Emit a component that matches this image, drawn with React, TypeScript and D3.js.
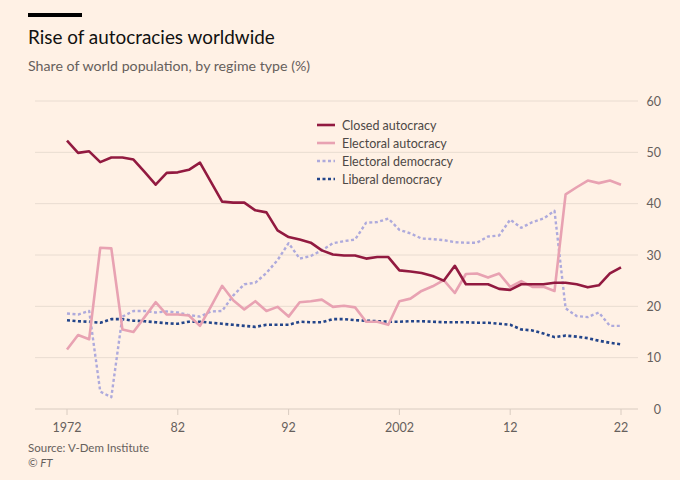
import React from "react";
import * as d3 from "d3";

const years: number[] = d3.range(1972, 2023);

const closedAutocracy: number[] = [
  52.3, 49.9, 50.2, 48.1, 49.0, 49.0, 48.6, 46.2, 43.7, 46.0,
  46.1, 46.6, 48.0, 44.2, 40.4, 40.2, 40.2, 38.7, 38.3, 34.8,
  33.5, 33.0, 32.4, 30.9, 30.1, 29.9, 29.9, 29.3, 29.6, 29.6,
  27.0, 26.8, 26.5, 25.9, 25.0, 27.9, 24.3, 24.3, 24.3, 23.4,
  23.2, 24.3, 24.3, 24.3, 24.6, 24.6, 24.3, 23.7, 24.1, 26.4,
  27.6,
];

const electoralAutocracy: number[] = [
  11.6, 14.4, 13.6, 31.4, 31.3, 15.5, 15.0, 17.9, 20.8, 18.4,
  18.4, 18.2, 16.2, 20.0, 24.0, 21.2, 19.4, 21.0, 19.1, 19.9,
  18.0, 20.8, 21.0, 21.3, 19.9, 20.1, 19.8, 17.0, 17.0, 16.4,
  21.0, 21.5, 23.0, 23.9, 25.1, 22.6, 26.3, 26.4, 25.6, 26.4,
  23.8, 24.9, 23.8, 23.8, 23.0, 41.8, 43.2, 44.5, 44.0, 44.5,
  43.7,
];

const electoralDemocracy: number[] = [
  18.6, 18.4, 19.1, 3.4, 2.3, 18.0, 19.1, 19.1, 18.8, 19.0,
  18.8, 18.3, 18.0, 19.0, 19.1, 22.1, 24.3, 24.6, 26.5, 29.0,
  32.3, 29.3, 29.8, 30.9, 32.3, 32.7, 33.0, 36.3, 36.4, 37.1,
  34.9, 34.2, 33.2, 33.1, 32.9, 32.5, 32.4, 32.4, 33.6, 33.8,
  36.9, 35.3, 36.4, 37.1, 38.6, 19.6, 18.1, 17.9, 18.8, 16.2,
  16.2,
];

const liberalDemocracy: number[] = [
  17.3, 17.1, 17.0, 16.8, 17.5, 17.5, 17.2, 17.1, 16.9, 16.7,
  16.6, 17.0, 17.0, 16.8, 16.6, 16.4, 16.2, 16.0, 16.4, 16.4,
  16.4, 17.0, 16.9, 16.9, 17.5, 17.5, 17.3, 17.2, 17.1, 17.0,
  17.0, 17.1, 17.1, 17.0, 16.9, 16.9, 16.9, 16.8, 16.8, 16.6,
  16.4, 15.5, 15.3, 14.7, 14.0, 14.3, 14.1, 13.8, 13.3, 12.9,
  12.6,
];

const seriesNames: string[] = [
  "Closed autocracy",
  "Electoral autocracy",
  "Electoral democracy",
  "Liberal democracy",
];

const yTicks: number[] = [0, 10, 20, 30, 40, 50, 60];
const xTicks: number[] = [1972, 1982, 1992, 2002, 2012, 2022];
const xTickLabels: string[] = ["1972", "82", "92", "2002", "12", "22"];

const title = "Rise of autocracies worldwide";
const subtitle = "Share of world population, by regime type (%)";
const source = "Source: V-Dem Institute";
const credit = "© FT";

const BG = "#FFF1E5";
const FONT = "Lato, 'Noto Sans', sans-serif";

const styles = [
  { color: "#921a40", width: 2.6, dash: "" },
  { color: "#e8a2b2", width: 2.6, dash: "" },
  { color: "#aeaadc", width: 2.4, dash: "3,2.5" },
  { color: "#23458a", width: 2.6, dash: "3,2.5" },
];

export default function App() {
  const W = 680;
  const H = 480;
  const x = d3.scaleLinear().domain([1972, 2022]).range([67, 621]);
  const y = d3.scaleLinear().domain([0, 60]).range([409, 101]);

  const allSeries = [closedAutocracy, electoralAutocracy, electoralDemocracy, liberalDemocracy];
  const line = d3
    .line<number>()
    .x((_, i) => x(years[i]))
    .y((d) => y(d))
    .curve(d3.curveLinear);

  const order = [3, 2, 1, 0];

  return (
    <svg
      width={W}
      height={H}
      style={{ position: "absolute", left: 0, top: 0, background: BG, fontFamily: FONT }}
    >
      <rect x={0} y={0} width={W} height={H} fill={BG} />
      <rect x={28} y={13} width={54} height={4} fill="#000" />
      <text x={28} y={44} fontSize={18.9} fill="#111" fontFamily={FONT}>
        {title}
      </text>
      <text x={28} y={71} fontSize={14.2} fill="#66605c" fontFamily={FONT}>
        {subtitle}
      </text>

      {yTicks.map((t) => (
        <g key={t}>
          <line
            x1={35}
            x2={638}
            y1={y(t)}
            y2={y(t)}
            stroke={t === 0 ? "#d9ccc1" : "#e9dcd1"}
            strokeWidth={1}
          />
          <text
            x={661}
            y={y(t) + 4.5}
            textAnchor="end"
            fontSize={12.5}
            fill="#66605c"
            fontFamily={FONT}
          >
            {t}
          </text>
        </g>
      ))}

      {xTicks.map((t, i) => (
        <g key={t}>
          <line x1={x(t)} x2={x(t)} y1={409} y2={415} stroke="#d9ccc1" strokeWidth={1} />
          <text
            x={x(t)}
            y={432}
            textAnchor="middle"
            fontSize={12.5}
            fill="#66605c"
            fontFamily={FONT}
          >
            {xTickLabels[i]}
          </text>
        </g>
      ))}

      {order.map((k) => (
        <path
          key={k}
          d={line(allSeries[k]) || ""}
          fill="none"
          stroke={styles[k].color}
          strokeWidth={styles[k].width}
          strokeDasharray={styles[k].dash || undefined}
          strokeLinejoin="round"
        />
      ))}

      {seriesNames.map((name, i) => (
        <g key={name} transform={`translate(317, ${125 + i * 18})`}>
          <line
            x1={0}
            x2={18}
            y1={0}
            y2={0}
            stroke={styles[i].color}
            strokeWidth={styles[i].width}
            strokeDasharray={styles[i].dash || undefined}
          />
          <text x={25} y={4.5} fontSize={12.5} fill="#4d4845" fontFamily={FONT}>
            {name}
          </text>
        </g>
      ))}

      <text x={28} y={452} fontSize={11.5} fill="#66605c" fontFamily={FONT}>
        {source}
      </text>
      <text x={28} y={467} fontSize={11.5} fill="#66605c" fontStyle="italic" fontFamily={FONT}>
        {credit}
      </text>
    </svg>
  );
}
